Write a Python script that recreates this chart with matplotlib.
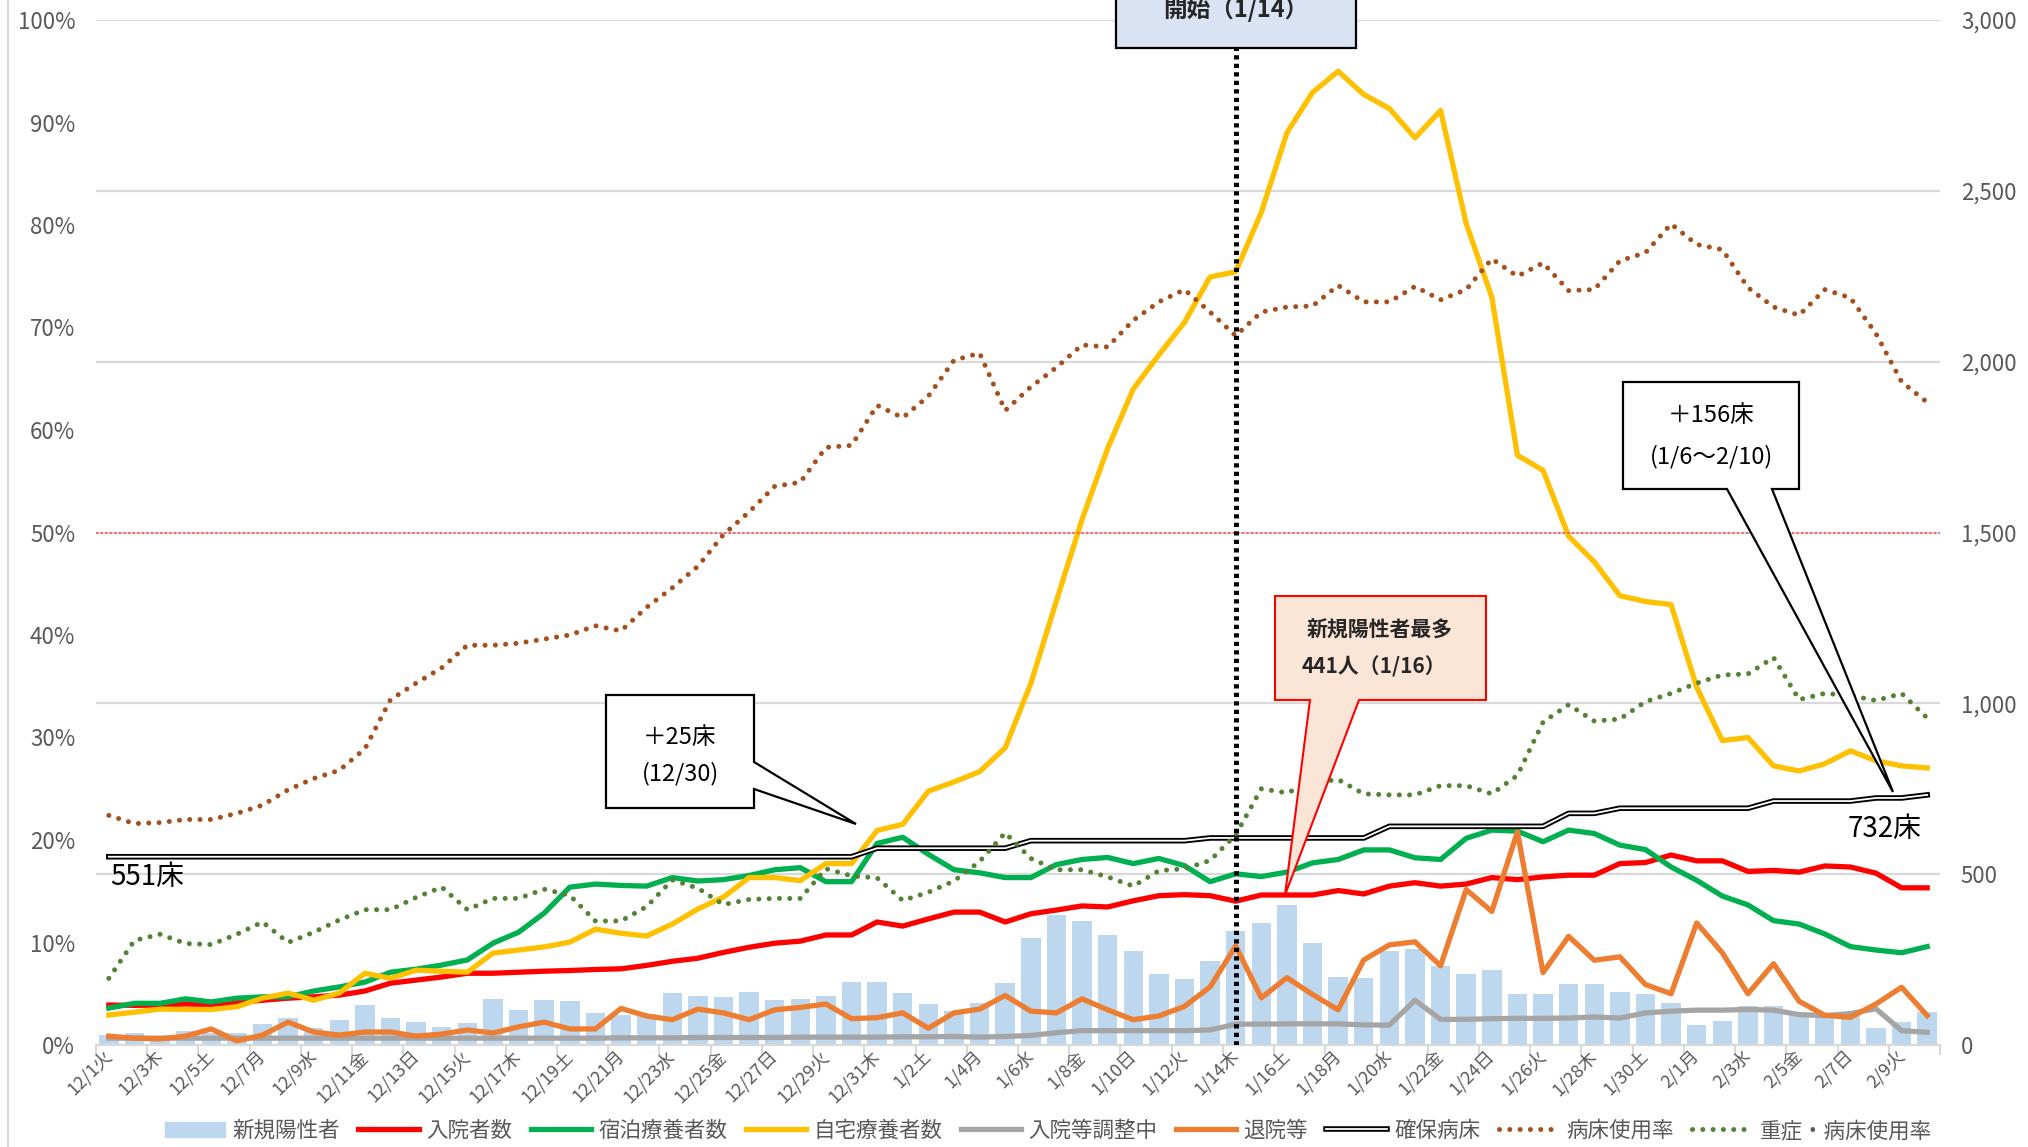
import numpy as np
import matplotlib
matplotlib.use('Agg')
import matplotlib.pyplot as plt
from matplotlib.patches import Polygon, Rectangle, Patch

plt.rcParams['font.family'] = ['Noto Sans CJK JP', 'DejaVu Sans']

# ---- data (12/1 .. 2/10, one value per day) ----
new_cases = [29, 35, 22, 41, 35, 35, 61, 79, 50, 73,
             117, 79, 67, 53, 64, 135, 102, 132, 129, 94,
             88, 90, 152, 143, 140, 155, 131, 135, 143, 184,
             184, 152, 120, 99, 123, 181, 313, 380, 363, 322,
             275, 208, 193, 246, 335, 356, 410, 298, 200, 197,
             276, 282, 231, 209, 219, 149, 149, 180, 180, 155,
             149, 123, 58, 71, 113, 113, 90, 85, 90, 50,
             66, 97]

inpatients = [117, 116, 117, 120, 118, 124, 131, 137, 141, 146,
              158, 181, 190, 199, 210, 210, 213, 216, 218, 221,
              223, 233, 245, 254, 271, 286, 298, 304, 322, 322,
              360, 348, 369, 389, 389, 360, 384, 395, 407, 404,
              422, 437, 440, 437, 421, 439, 439, 439, 452, 442,
              465, 475, 465, 471, 490, 484, 492, 497, 497, 531,
              534, 556, 539, 539, 508, 511, 506, 524, 521, 503,
              460, 460]

hotel = [108, 122, 122, 135, 126, 137, 141, 141, 158, 170,
         184, 213, 222, 234, 249, 298, 330, 386, 462, 471,
         467, 465, 490, 480, 484, 496, 513, 519, 478, 478,
         590, 608, 558, 513, 504, 490, 490, 528, 543, 549,
         531, 546, 525, 478, 501, 493, 506, 533, 543, 571,
         571, 548, 543, 605, 629, 626, 595, 629, 619, 585,
         572, 521, 482, 436, 410, 364, 354, 325, 288, 278,
         270, 288]

home = [88, 96, 105, 104, 104, 112, 137, 152, 131, 152,
        210, 195, 219, 216, 213, 269, 278, 287, 301, 339,
        327, 319, 354, 398, 433, 490, 490, 481, 531, 531,
        628, 646, 743, 770, 800, 870, 1058, 1300, 1538, 1746,
        1920, 2020, 2115, 2248, 2263, 2437, 2670, 2788, 2850, 2782,
        2741, 2655, 2735, 2404, 2189, 1726, 1682, 1489, 1414, 1315,
        1298, 1289, 1047, 891, 900, 817, 802, 823, 861, 832,
        817, 811]

adjusting = [20, 20, 20, 20, 20, 20, 20, 20, 20, 20,
             20, 20, 20, 20, 20, 20, 20, 20, 20, 20,
             21, 21, 21, 22, 22, 22, 22, 23, 23, 23,
             23, 24, 24, 25, 23, 25, 28, 36, 42, 42,
             42, 42, 42, 44, 61, 61, 62, 62, 62, 59,
             58, 131, 75, 75, 77, 78, 78, 79, 82, 79,
             94, 99, 102, 102, 104, 102, 89, 86, 92, 106,
             42, 37]

discharged = [26, 20, 18, 26, 47, 12, 29, 67, 38, 29,
              38, 38, 26, 32, 44, 35, 53, 67, 47, 47,
              107, 85, 74, 105, 94, 74, 103, 110, 120, 77,
              80, 94, 49, 94, 105, 145, 99, 94, 135, 103,
              74, 85, 113, 170, 290, 138, 197, 148, 103, 249,
              293, 302, 232, 455, 391, 624, 212, 318, 248, 258,
              177, 150, 357, 270, 150, 238, 128, 87, 81, 120,
              169, 86]

beds = [551, 551, 551, 551, 551, 551, 551, 551, 551, 551,
        551, 551, 551, 551, 551, 551, 551, 551, 551, 551,
        551, 551, 551, 551, 551, 551, 551, 551, 551, 551,
        576, 576, 576, 576, 576, 576, 598, 598, 598, 598,
        598, 598, 598, 606, 606, 606, 606, 606, 606, 606,
        640, 640, 640, 640, 640, 640, 640, 678, 678, 693,
        693, 693, 693, 693, 693, 714, 714, 714, 714, 723,
        723, 732]

bed_rate = [22.4, 21.6, 21.7, 22.0, 22.0, 22.6, 23.4, 24.9, 26.0, 26.8,
            28.9, 33.7, 35.3, 36.8, 39.0, 39.0, 39.2, 39.6, 40.0, 40.9,
            40.4, 42.7, 44.6, 46.7, 49.8, 52.0, 54.5, 54.9, 58.3, 58.5,
            62.4, 61.2, 63.3, 66.8, 67.5, 61.9, 64.2, 66.1, 68.3, 68.1,
            70.7, 72.5, 73.7, 71.5, 69.2, 71.5, 72.0, 72.1, 74.1, 72.5,
            72.5, 74.0, 72.7, 73.7, 76.7, 75.0, 76.3, 73.6, 73.7, 76.5,
            77.3, 80.1, 78.1, 77.6, 73.9, 72.0, 71.2, 73.7, 72.9, 69.4,
            64.7, 62.7]

severe_rate = [6.5, 10.2, 10.8, 9.9, 9.8, 10.8, 12.0, 10.0, 11.0, 12.2,
               13.2, 13.2, 14.4, 15.4, 13.2, 14.3, 14.3, 15.2, 14.6, 12.1,
               12.1, 13.5, 16.1, 15.3, 13.7, 14.2, 14.3, 14.3, 17.2, 16.5,
               16.3, 14.1, 14.9, 16.0, 17.9, 20.7, 18.2, 17.1, 17.1, 16.4,
               15.5, 17.0, 17.2, 18.0, 20.5, 25.0, 24.6, 25.6, 25.9, 24.5,
               24.4, 24.4, 25.3, 25.3, 24.5, 26.3, 31.5, 33.2, 31.6, 31.8,
               33.5, 34.3, 35.3, 36.1, 36.2, 37.8, 33.7, 34.3, 34.1, 33.6,
               34.3, 31.9]

# every other day gets a label
date_labels = ['12/1火', '12/3木', '12/5土', '12/7月', '12/9水', '12/11金',
               '12/13日', '12/15火', '12/17木', '12/19土', '12/21月', '12/23水',
               '12/25金', '12/27日', '12/29火', '12/31木', '1/2土', '1/4月',
               '1/6水', '1/8金', '1/10日', '1/12火', '1/14木', '1/16土',
               '1/18月', '1/20水', '1/22金', '1/24日', '1/26火', '1/28木',
               '1/30土', '2/1月', '2/3水', '2/5金', '2/7日', '2/9火']

legend_labels = ['新規陽性者', '入院者数', '宿泊療養者数', '自宅療養者数', '入院等調整中',
                 '退院等', '確保病床', '病床使用率', '重症・病床使用率']

start_day = 44   # 1/14

days = np.arange(len(new_cases))
txt_gray = '#595959'
grid_gray = '#D9D9D9'

fig = plt.figure(figsize=(20.28, 11.47), dpi=100)
W, H = 2028, 1147
x0, x1, y_top, y_bot = 96, 1940, 20, 1045
ax = fig.add_axes([x0 / W, 1 - y_bot / H, (x1 - x0) / W, (y_bot - y_top) / H])
ax2 = ax.twinx()
ax.set_zorder(ax2.get_zorder() + 1)
ax.patch.set_visible(False)

# right axis: counts
ax2.bar(days, new_cases, width=0.76, color='#BDD7EE', zorder=1)
lw = 3.8
l_red, = ax2.plot(days, inpatients, color='#FF0000', lw=lw, zorder=3)
l_grn, = ax2.plot(days, hotel, color='#00B050', lw=lw, zorder=3)
l_yel, = ax2.plot(days, home, color='#FFC000', lw=lw, zorder=3)
l_gry, = ax2.plot(days, adjusting, color='#A5A5A5', lw=lw, zorder=3)
l_org, = ax2.plot(days, discharged, color='#ED7D31', lw=lw, zorder=3)
b_out, = ax2.plot(days, beds, color='black', lw=4.0, zorder=4)
b_in, = ax2.plot(days, beds, color='white', lw=1.3, zorder=4)

ax2.set_ylim(0, 3000)
ax2.set_yticks(np.arange(0, 3001, 500))
ax2.set_yticklabels([f'{v:,}' for v in range(0, 3001, 500)])
ax2.yaxis.grid(True, color=grid_gray, lw=1.6)
ax2.set_axisbelow(True)
ax2.tick_params(axis='y', length=0, pad=15, labelsize=16, labelcolor=txt_gray)
for s in ax2.spines.values():
    s.set_visible(False)

# left axis: percentages
dot = (0, (0.01, 2.05))
l_brn, = ax.plot(days, bed_rate, color='#A5501C', lw=3.6, linestyle=dot,
                 dash_capstyle='round', zorder=5)
l_sev, = ax.plot(days, severe_rate, color='#548235', lw=3.6, linestyle=dot,
                 dash_capstyle='round', zorder=5)
ax.axhline(50, color='#FF4040', lw=1.1, linestyle=(0, (1.5, 1.5)), zorder=2)
ax.axvline(start_day, ymin=0, ymax=(y_bot - 48) / (y_bot - y_top), color='black',
           lw=3.6, linestyle=(0, (0.85, 0.85)), zorder=6)
ax.set_ylim(0, 100)
ax.set_yticks(np.arange(0, 101, 10))
ax.set_yticklabels([f'{v}%' for v in range(0, 101, 10)])
ax.tick_params(axis='y', length=0, pad=15, labelsize=16, labelcolor=txt_gray)

ax.set_xlim(-0.5, len(days) - 0.5)
ax.set_xticks(np.arange(-0.5, len(days), 2))
ax.set_xticks(np.arange(0, len(days), 2), labels=date_labels, minor=True)
ax.tick_params(axis='x', which='major', length=7, width=1.5, color=grid_gray, labelbottom=False)
ax.tick_params(axis='x', which='minor', length=0, pad=6, labelsize=13, labelcolor=txt_gray)
for lab in ax.get_xticklabels(minor=True):
    lab.set_rotation(45)
    lab.set_ha('right')
    lab.set_va('center')
    lab.set_rotation_mode('anchor')
for k, s in ax.spines.items():
    s.set_visible(k == 'bottom')
ax.spines['bottom'].set_color(grid_gray)
ax.spines['bottom'].set_linewidth(1.6)

# legend
handles = [Patch(color='#BDD7EE'), l_red, l_grn, l_yel, l_gry, l_org,
           (b_out, b_in), l_brn, l_sev]
fig.legend(handles, legend_labels, loc='center', bbox_to_anchor=(0.517, 1 - 1131 / H),
           ncol=9, frameon=False, fontsize=15.5, handlelength=2.8, handletextpad=0.35,
           columnspacing=0.85, labelcolor=txt_gray)

# annotations in pixel space
ov = fig.add_axes([0, 0, 1, 1], zorder=20)
ov.set_xlim(0, W)
ov.set_ylim(H, 0)
ov.axis('off')
ov.patch.set_visible(False)

ov.plot([8, 8], [0, H], color=grid_gray, lw=1.5)

ov.add_patch(Polygon([(606, 695), (754, 695), (754, 762), (856, 824), (754, 789),
                      (754, 808), (606, 808)], closed=True, fc='white', ec='black', lw=1.6))
ov.text(680, 737, '＋25床', ha='center', va='center', fontsize=17)
ov.text(680, 774, '(12/30)', ha='center', va='center', fontsize=17)

ov.add_patch(Polygon([(1623, 382), (1799, 382), (1799, 489), (1772, 489), (1893, 792),
                      (1727, 489), (1623, 489)], closed=True, fc='white', ec='black', lw=1.6))
ov.text(1711, 415, '＋156床', ha='center', va='center', fontsize=17)
ov.text(1711, 457, '(1/6～2/10)', ha='center', va='center', fontsize=17)

ov.add_patch(Polygon([(1275, 596), (1486, 596), (1486, 700), (1359, 700), (1285, 895),
                      (1310, 700), (1275, 700)], closed=True, fc='#FBE5D6', ec='#FF0000', lw=1.5))
ov.text(1380, 630, '新規陽性者最多', ha='center', va='center', fontsize=15, fontweight='bold',
        color='#262626')
ov.text(1374, 667, '441人（1/16）', ha='center', va='center', fontsize=15, fontweight='bold',
        color='#262626')

ov.add_patch(Rectangle((1116, -5), 240, 53, fc='#DAE3F3', ec='black', lw=1.6))
ov.text(1236, 9, '開始（1/14）', ha='center', va='center', fontsize=17, fontweight='bold',
        color='#262626')

ov.text(110, 877, '551床', ha='left', va='center', fontsize=20)
ov.text(1885, 829, '732床', ha='center', va='center', fontsize=20)

fig.savefig('out.png', dpi=100)
